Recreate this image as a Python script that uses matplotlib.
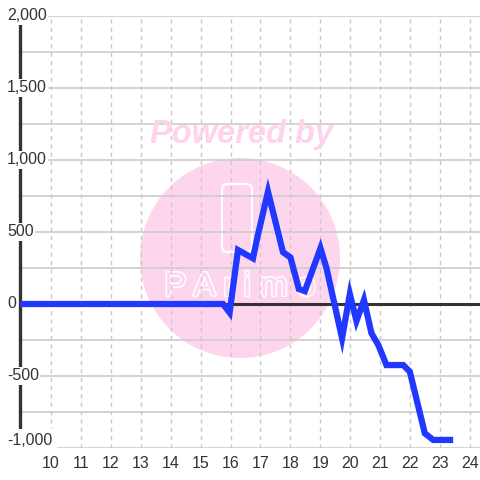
import numpy as np
import matplotlib
matplotlib.use('Agg')
import matplotlib.pyplot as plt
import matplotlib.transforms as mtransforms
import matplotlib.patheffects as pe
from matplotlib.patches import Circle, FancyBboxPatch

# data
xs = [8.98, 15.75, 15.97, 16.25, 16.75, 16.9, 17.25, 17.75, 18.0, 18.28, 18.48,
      19.0, 19.2, 19.72, 19.98, 20.2, 20.45, 20.7, 20.93, 21.2, 21.76, 21.98,
      22.48, 22.76, 23.32]
ys = [0, 0, -60, 375, 317, 467, 780, 360, 323, 104, 90,
      387, 250, -238, 69, -118, 28, -203, -285, -424, -424, -470,
      -898, -944, -944]
xticks = list(range(10, 25))
ylabels = [2000, 1500, 1000, 500, 0, -500, -1000]

plt.rcParams['font.family'] = ['Liberation Sans', 'DejaVu Sans']

fig = plt.figure(figsize=(4.8, 4.8), dpi=100)
ax = fig.add_axes([20/480, 32/480, 460/480, 432/480])

ax.set_xlim(8.98, 24.32)
ax.set_ylim(-1000, 2000)

# watermark
circ = Circle((240/480, 1 - 258/480), 100/480, transform=fig.transFigure,
              facecolor='#fdd5ed', edgecolor='none', zorder=0.1)
ax.add_patch(circ)
box = FancyBboxPatch((222/480, 1 - 252/480), 30/480, 68/480,
                     boxstyle='round,pad=0,rounding_size=0.012',
                     transform=fig.transFigure, facecolor='none',
                     edgecolor='white', lw=1.6, zorder=0.2)
ax.add_patch(box)
fig.text(242/480, 1 - 134/480, 'Powered by', ha='center', va='center',
         fontsize=23.5, fontweight='bold', style='italic', color='#ffd3ec',
         zorder=0.2)
t = ax.text(240/480, 1 - 287/480, 'P A r i m o', transform=fig.transFigure,
            ha='center', va='center', fontsize=24, color='#fdd5ed', zorder=0.2)
t.set_path_effects([pe.Stroke(linewidth=2.2, foreground='white'), pe.Normal()])

# grid
ax.set_axisbelow(True)
ax.set_xticks(xticks)
ax.set_yticks(np.arange(-1000, 2001, 250))
ax.grid(axis='x', color='#c8c8c8', lw=1, ls=(0, (3, 3)))
ax.grid(axis='y', color='#cccccc', lw=1.2, ls='-')
ax.tick_params(length=0)
ax.tick_params(axis='x', labelsize=11.5, labelcolor='#333333', pad=6)
ax.set_yticklabels([])

for s in ['top', 'right', 'bottom']:
    ax.spines[s].set_visible(False)
ax.spines['left'].set_color('#333333')
ax.spines['left'].set_linewidth(2.4)

ax.axhline(0, color='#333333', lw=2.2, zorder=2)
ax.plot(xs, ys, color='#2038ff', lw=4.5, zorder=3, solid_joinstyle='miter')

trans = mtransforms.blended_transform_factory(ax.transAxes, ax.transData)
for v in ylabels:
    ypos = v + 50 if v == -1000 else v
    pad = 3.5 if v == -1000 else 0.8
    ax.text(-13/460, ypos, f'{v:,}', transform=trans,
            ha='left', va='center', fontsize=11.5, color='#333333',
            clip_on=False, zorder=10,
            bbox=dict(facecolor='white', edgecolor='none', pad=pad))

fig.savefig('out.png', dpi=100)
